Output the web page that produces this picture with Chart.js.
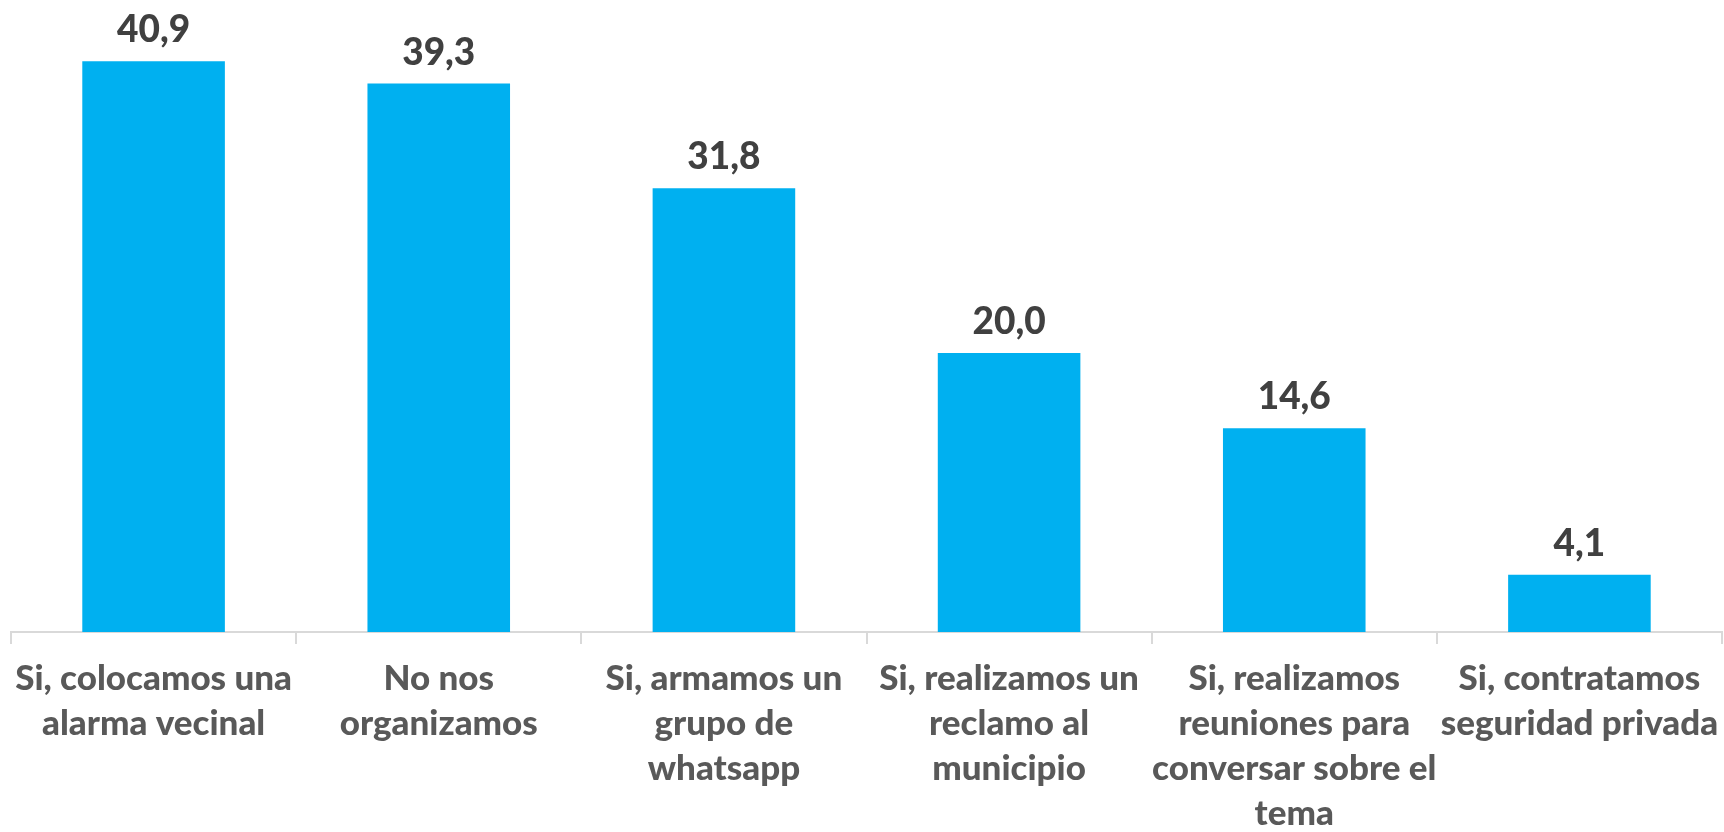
<!DOCTYPE html>
<html lang="es">
<head>
    <meta charset="UTF-8">
    <title>Organización vecinal</title>
    <script src="https://cdn.jsdelivr.net/npm/chart.js"></script>
    <style>
        body { margin: 0; background: #fff; }
        #wrap { width: 1724px; height: 832px; }
    </style>
</head>
<body>
    <div id="wrap"><canvas id="chart" width="1724" height="832"></canvas></div>

    <script>
        const categorias = [
            ['Si, colocamos una', 'alarma vecinal'],
            ['No nos', 'organizamos'],
            ['Si, armamos un', 'grupo de', 'whatsapp'],
            ['Si, realizamos un', 'reclamo al', 'municipio'],
            ['Si, realizamos', 'reuniones para', 'conversar sobre el', 'tema'],
            ['Si, contratamos', 'seguridad privada']
        ];
        const valores = [40.9, 39.3, 31.8, 20.0, 14.6, 4.1];

        const fuente = 'Lato, "Open Sans", sans-serif';

        // etiquetas de valor encima de cada barra (formato con coma decimal)
        const etiquetas = {
            id: 'etiquetas',
            afterDatasetsDraw(chart) {
                const ctx = chart.ctx;
                const meta = chart.getDatasetMeta(0);
                ctx.save();
                ctx.font = '900 37px ' + fuente;
                ctx.fillStyle = '#404040';
                ctx.textAlign = 'center';
                ctx.textBaseline = 'alphabetic';
                meta.data.forEach((bar, i) => {
                    ctx.fillText(valores[i].toFixed(1).replace('.', ','), bar.x, bar.y - 19);
                });
                ctx.restore();
            }
        };

        new Chart(document.getElementById('chart'), {
            type: 'bar',
            data: {
                labels: categorias,
                datasets: [{
                    data: valores,
                    backgroundColor: '#00B0F0',
                    borderWidth: 0,
                    categoryPercentage: 1,
                    barPercentage: 0.5
                }]
            },
            options: {
                responsive: false,
                animation: false,
                layout: { padding: { left: 11, right: 2, top: 4, bottom: 0 } },
                plugins: {
                    legend: { display: false },
                    tooltip: { enabled: false }
                },
                scales: {
                    x: {
                        afterFit: s => {
                            s.height = 200;
                            s.paddingLeft = 0;
                            s.paddingRight = 0;
                        },
                        border: { display: true, color: '#D9D9D9', width: 2 },
                        grid: {
                            offset: true,
                            drawOnChartArea: false,
                            drawTicks: true,
                            tickLength: 12,
                            color: '#D9D9D9',
                            lineWidth: 2
                        },
                        ticks: {
                            autoSkip: false,
                            maxRotation: 0,
                            minRotation: 0,
                            padding: 12,
                            color: '#595959',
                            font: { family: fuente, size: 35, weight: '900', lineHeight: 1.29 }
                        }
                    },
                    y: {
                        display: false,
                        min: 0,
                        max: 45
                    }
                }
            },
            plugins: [etiquetas]
        });
    </script>
</body>
</html>
